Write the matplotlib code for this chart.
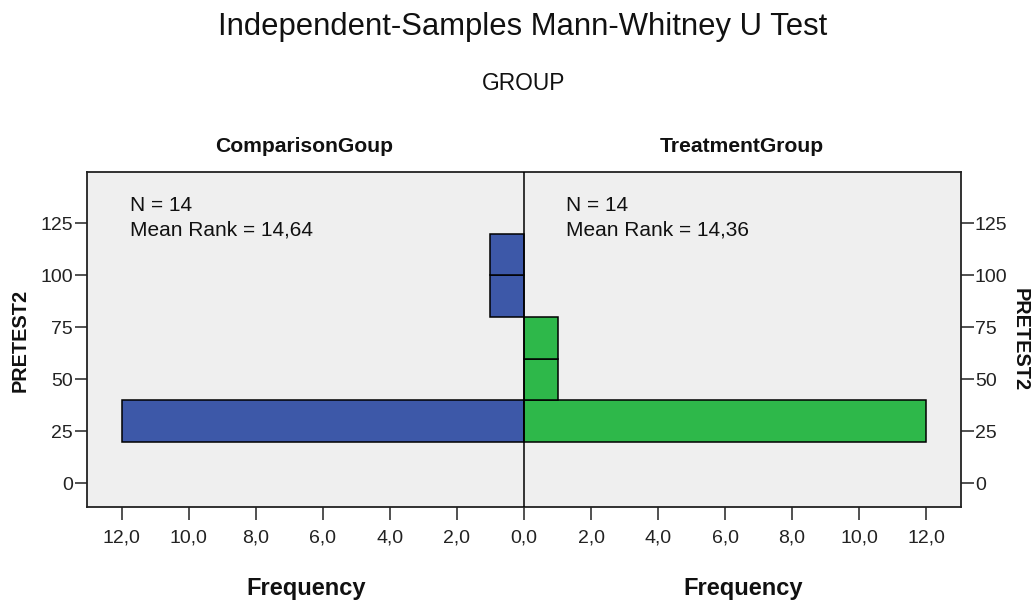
import matplotlib
matplotlib.use("Agg")
import matplotlib.pyplot as plt
from matplotlib import font_manager
from matplotlib.ticker import FuncFormatter

# ---------------- data ----------------
bin_lower = [20, 40, 60, 80, 100]
bin_width = 20
comparison_counts = [12, 0, 0, 1, 1]
treatment_counts = [12, 1, 1, 0, 0]
group_names = ["ComparisonGoup", "TreatmentGroup"]
n_values = [14, 14]
mean_ranks = ["14,64", "14,36"]
y_ticks = [0, 25, 50, 75, 100, 125]
x_ticks = [-12, -10, -8, -6, -4, -2, 0, 2, 4, 6, 8, 10, 12]

# ---------------- fonts ----------------
available = {f.name for f in font_manager.fontManager.ttflist}
def pick(names):
    for n in names:
        if n in available:
            return n
    return "DejaVu Sans"
narrow = pick(["Liberation Sans Narrow", "Liberation Sans", "DejaVu Sans"])
plt.rcParams["font.family"] = [narrow, "DejaVu Sans"]

blue = "#3d58a8"
green = "#2eb84a"
bg = "#efefef"
txt = "#111111"

fig = plt.figure(figsize=(10.35, 6.06), dpi=100)
ax = fig.add_axes([87/1035, 1-507/606, (961-87)/1035, (507-172)/606])
ax.set_facecolor(bg)

XL = 13.04
ax.set_xlim(-XL, XL)
ax.set_ylim(-11.4, 149.7)

# bars
ax.barh([b for b, c in zip(bin_lower, comparison_counts) if c > 0],
        [-c for c in comparison_counts if c > 0], height=bin_width, align="edge",
        color=blue, edgecolor="black", linewidth=1.1, zorder=3)
ax.barh([b for b, c in zip(bin_lower, treatment_counts) if c > 0],
        [c for c in treatment_counts if c > 0], height=bin_width, align="edge",
        color=green, edgecolor="black", linewidth=1.1, zorder=3)

ax.axvline(0, color="black", linewidth=1.1, zorder=4)

for s in ax.spines.values():
    s.set_linewidth(1.3)
    s.set_color("#222222")

ax.set_yticks(y_ticks)
ax.set_xticks(x_ticks)
ax.xaxis.set_major_formatter(FuncFormatter(lambda v, p: f"{abs(v):.1f}".replace(".", ",")))
ax.tick_params(axis="both", direction="out", length=9, width=1.1, labelsize=14, colors="#222222")
ax.tick_params(axis="x", pad=7)
ax.tick_params(axis="y", pad=1)

ax2 = ax.twinx()
ax2.set_ylim(ax.get_ylim())
ax2.set_yticks(y_ticks)
ax2.tick_params(axis="y", direction="out", length=9, width=1.1, labelsize=14, pad=1, colors="#222222")
for s in ax2.spines.values():
    s.set_visible(False)

# annotations
for x0, n, mr in [(-11.75, n_values[0], mean_ranks[0]), (1.25, n_values[1], mean_ranks[1])]:
    ax.text(x0, 133.8, f"N = {n}", fontsize=15, va="center", ha="left", color=txt)
    ax.text(x0, 121.8, f"Mean Rank = {mr}", fontsize=15, va="center", ha="left", color=txt)

# titles and labels
fig.text(523/1035, 1-27/606, "Independent-Samples Mann-Whitney U Test", fontsize=22.3,
         ha="center", va="center", color=txt)
fig.text(524/1035, 1-84/606, "GROUP", fontsize=16.4, ha="center", va="center", color=txt)
fig.text(304/1035, 1-147/606, group_names[0], fontsize=15.2, fontweight="bold", ha="center", va="center", color=txt)
fig.text(742/1035, 1-147/606, group_names[1], fontsize=15.2, fontweight="bold", ha="center", va="center", color=txt)
fig.text(306/1035, 1-588/606, "Frequency", fontsize=17, fontweight="bold", ha="center", va="center", color=txt)
fig.text(743/1035, 1-588/606, "Frequency", fontsize=17, fontweight="bold", ha="center", va="center", color=txt)
fig.text(20/1035, 1-340/606, "PRETEST2", fontsize=14.3, fontweight="bold", rotation=90, ha="center", va="center", color=txt)
fig.text(1020/1035, 1-340/606, "PRETEST2", fontsize=14.3, fontweight="bold", rotation=270, ha="center", va="center", color=txt)

fig.savefig("out.png", dpi=100, facecolor="white")
